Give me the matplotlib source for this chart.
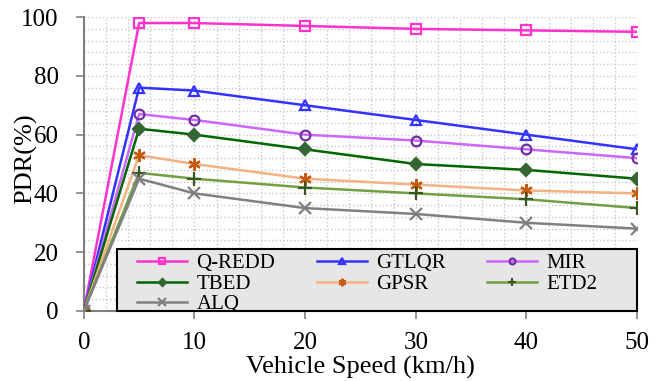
import numpy as np
import matplotlib
matplotlib.use('Agg')
import matplotlib.pyplot as plt
from matplotlib.ticker import MultipleLocator
from matplotlib.patches import Rectangle

plt.rcParams['font.family'] = ['Liberation Serif', 'DejaVu Serif']

## Datos
speed  = [0, 5, 10, 20, 30, 40, 50]
q_redd = [0, 98, 98, 97, 96, 95.5, 95]
gtlqr  = [0, 76, 75, 70, 65, 60, 55]
mir    = [0, 67, 65, 60, 58, 55, 52]
tbed   = [0, 62, 60, 55, 50, 48, 45]
gpsr   = [0, 53, 50, 45, 43, 41, 40]
etd2   = [0, 47, 45, 42, 40, 38, 35]
alq    = [0, 45, 40, 35, 33, 30, 28]

names = ['Q-REDD', 'GTLQR', 'MIR', 'TBED', 'GPSR', 'ETD2', 'ALQ']
series = [q_redd, gtlqr, mir, tbed, gpsr, etd2, alq]

## estilos: color linea, marcador, tamano, color marcador, relleno
estilos = [
    ('#ff33cc', 's', 7, '#ff33cc', 'none'),
    ('#3333ff', '^', 7, '#3333ff', 'none'),
    ('#cc66ff', 'o', 7, '#7030a0', 'none'),
    ('#006600', 'D', 6, '#336633', '#336633'),
    ('#f4b183', (6, 2, 0), 9, '#c55a11', '#c55a11'),
    ('#70a040', '+', 10, '#375623', '#375623'),
    ('#808080', 'x', 9, '#808080', '#808080'),
]

fig = plt.figure(figsize=[6.65, 3.81], dpi=100)
ax = fig.add_axes([0.126, 0.184, 0.832, 0.771])

lineas = []
for nombre, y, (lc, mk, ms, mc, mf) in zip(names, series, estilos):
    l, = ax.plot(speed, y, color=lc, linewidth=1.8, marker=mk, markersize=ms,
                 markeredgecolor=mc, markerfacecolor=mf, markeredgewidth=1.6,
                 label=nombre, zorder=3)
    lineas.append(l)

ax.set_xlim(0, 50)
ax.set_ylim(0, 100)
ax.xaxis.set_major_locator(MultipleLocator(10))
ax.xaxis.set_minor_locator(MultipleLocator(2))
ax.yaxis.set_major_locator(MultipleLocator(20))
ax.yaxis.set_minor_locator(MultipleLocator(4))
ax.grid(True, which='both', color='#c8c8c8', linestyle=':', linewidth=1.0, zorder=0)
ax.set_axisbelow(True)

for lado in ['top', 'right']:
    ax.spines[lado].set_visible(False)
for lado in ['left', 'bottom']:
    ax.spines[lado].set_color('#808080')
    ax.spines[lado].set_linewidth(1.5)
ax.tick_params(which='major', direction='out', length=6, width=1.2, color='#808080',
               labelsize=18)
ax.tick_params(axis='x', which='major', pad=9)
ax.tick_params(axis='y', which='major', pad=12)
ax.tick_params(which='minor', length=0)

ax.set_xlabel('Vehicle Speed (km/h)', fontsize=19)
ax.set_ylabel('PDR(%)', fontsize=19)
ax.xaxis.set_label_coords(0.5, -0.152)
ax.yaxis.set_label_coords(-0.085, 0.517)

## caja de la leyenda (gris, borde negro)
caja = Rectangle((0.06, 0.0), 0.94, 0.211, transform=ax.transAxes,
                 facecolor='#e6e6e6', edgecolor='black', linewidth=1.5,
                 zorder=4, clip_on=False)
ax.add_patch(caja)

## orden por filas en la leyenda (matplotlib llena por columnas)
orden = [0, 3, 6, 1, 4, 2, 5]
leg = ax.legend([lineas[i] for i in orden], [names[i] for i in orden],
                ncol=3, loc='upper left', bbox_to_anchor=(0.097, 0.195),
                fontsize=15, frameon=False,
                markerscale=0.6, handlelength=2.4, handletextpad=0.43,
                borderpad=0.0, labelspacing=0.05, borderaxespad=0.0,
                columnspacing=2.0)
leg.set_zorder(5)

fig.savefig('out.png', dpi=100)
